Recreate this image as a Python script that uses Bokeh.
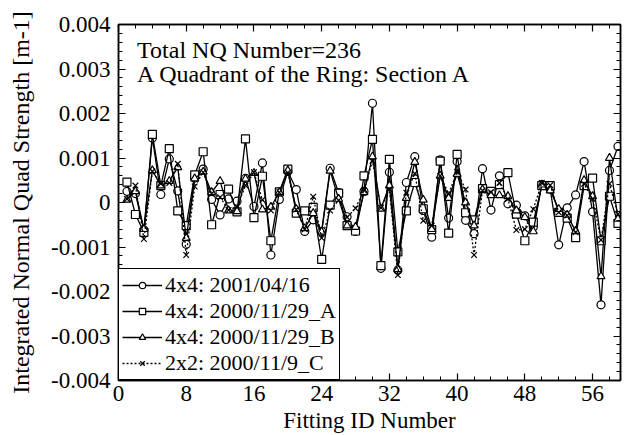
from bokeh.plotting import figure
from bokeh.models import (LinearAxis, FixedTicker, CustomJSTickFormatter, Legend,
                          LegendItem, Label, Range1d)
from bokeh.embed import file_html
from bokeh.resources import INLINE

# ---------------- data ----------------
fit_id = list(range(1, 60))

s_20010416 = [0.00025, 0.00020, -0.00062, 0.00145, 0.00018, 0.00098, 0.00026, -0.00094, 0.00055, 0.00075,
              0.00007, -0.00028, 0.00008, 0.00003, 0.00054, -0.00009, 0.00089, -0.00118, 0.00007, 0.00070,
              0.00029, -0.00065, -0.00039, -0.00065, 0.00077, 0.00022, -0.00032, -0.00065, 0.00025, 0.00223,
              -0.00148, 0.00068, -0.00152, 0.00045, 0.00103, -0.00018, -0.00078, 0.00096, -0.00035, 0.00092,
              -0.00040, -0.00070, 0.00076, -0.00017, 0.00060, -0.00003, -0.00006, -0.00030, -0.00055, 0.00040,
              0.00030, -0.00095, -0.00012, 0.00017, 0.00092, -0.00021, -0.00230, 0.00072, 0.00126]

s_20001129A = [0.00046, -0.00027, -0.00067, 0.00153, 0.00038, 0.00121, -0.00019, -0.00052, 0.00062, 0.00114,
               -0.00050, 0.00018, 0.00030, -0.00021, 0.00143, -0.00034, 0.00059, -0.00086, 0.00024, 0.00075,
               -0.00024, -0.00019, -0.00011, -0.00128, -0.00006, 0.00021, -0.00052, -0.00064, 0.00060, 0.00142,
               -0.00142, 0.00097, -0.00111, -0.00019, 0.00045, -0.00014, -0.00061, 0.00093, -0.00069, 0.00108,
               -0.00023, -0.00039, 0.00031, 0.00025, 0.00040, 0.00067, -0.00026, -0.00086, -0.00044, 0.00038,
               0.00038, -0.00022, -0.00035, -0.00079, 0.00038, 0.00055, -0.00086, 0.00014, -0.00047]

s_20001129B = [0.00006, 0.00025, -0.00060, 0.00072, 0.00038, 0.00048, 0.00079, -0.00080, 0.00054, 0.00069,
               0.00023, 0.00048, -0.00018, -0.00020, 0.00053, 0.00066, -0.00016, -0.00010, 0.00023, 0.00072,
               -0.00015, -0.00058, -0.00024, -0.00066, 0.00071, 0.00008, -0.00052, -0.00055, 0.00023, 0.00103,
               -0.00014, 0.00038, -0.00150, 0.00010, 0.00091, 0.00006, -0.00060, 0.00060, 0.00010, 0.00064,
               0.00000, -0.00052, 0.00029, 0.00016, 0.00016, 0.00014, -0.00018, -0.00033, -0.00065, 0.00040,
               0.00027, -0.00015, -0.00028, -0.00064, 0.00050, 0.00014, -0.00166, 0.00100, -0.00037]

s_20001109C = [0.00008, 0.00038, -0.00082, 0.00070, 0.00042, 0.00044, 0.00087, -0.00118, 0.00036, 0.00068,
               0.00020, 0.00012, -0.00017, -0.00010, 0.00038, 0.00068, 0.00006, -0.00018, 0.00023, 0.00067,
               -0.00016, -0.00060, 0.00013, -0.00080, -0.00018, 0.00005, -0.00033, -0.00013, 0.00027, 0.00093,
               -0.00012, 0.00030, -0.00163, 0.00022, 0.00065, -0.00041, -0.00052, 0.00060, 0.00020, 0.00069,
               0.00029, -0.00118, 0.00027, 0.00023, 0.00044, 0.00008, -0.00062, -0.00060, -0.00015, 0.00044,
               0.00039, -0.00022, -0.00029, -0.00067, 0.00042, 0.00008, -0.00084, 0.00042, -0.00026]

series_labels = ["4x4: 2001/04/16", "4x4: 2000/11/29_A", "4x4: 2000/11/29_B", "2x2: 2000/11/9_C"]
x_major = [0, 8, 16, 24, 32, 40, 48, 56]
y_major = [-0.004, -0.003, -0.002, -0.001, 0.0, 0.001, 0.002, 0.003, 0.004]
annot_lines = ["Total NQ Number=236", "A Quadrant of the Ring: Section A"]

# ---------------- figure ----------------
FONT = "Liberation Serif"
FS = "23px"

p = figure(width=633, height=435, output_backend="svg", toolbar_location=None,
           x_range=Range1d(0, 59.3), y_range=Range1d(-0.004, 0.004),
           min_border_left=118, min_border_right=13, min_border_top=24, min_border_bottom=55,
           x_axis_label="Fitting ID Number",
           y_axis_label="Integrated Normal Quad Strength [m-1]")
p.grid.visible = False
p.outline_line_color = "black"
p.outline_line_width = 1.5
p.background_fill_color = "white"
p.border_fill_color = "white"

x_minor = list(range(0, 60, 2))
y_minor = [round(i * 0.0002, 4) for i in range(-20, 21)]

xt = FixedTicker(ticks=x_major, minor_ticks=x_minor)
yt = FixedTicker(ticks=y_major, minor_ticks=y_minor)
yfmt = CustomJSTickFormatter(code="if (Math.abs(tick) < 1e-12) { return '0'; } return tick.toFixed(3);")


def style_axis(ax):
    ax.major_tick_in = 7
    ax.major_tick_out = 0
    ax.minor_tick_in = 4
    ax.minor_tick_out = 0
    ax.axis_line_color = "black"
    ax.axis_line_width = 1.5
    ax.major_tick_line_color = "black"
    ax.major_tick_line_width = 1.2
    ax.minor_tick_line_color = "black"
    ax.minor_tick_line_width = 1
    ax.major_label_text_font = FONT
    ax.major_label_text_font_size = FS
    ax.major_label_text_color = "black"
    ax.axis_label_text_font = FONT
    ax.axis_label_text_font_size = FS
    ax.axis_label_text_font_style = "normal"
    ax.axis_label_text_color = "black"


xa = p.xaxis[0]
ya = p.yaxis[0]
xa.ticker = xt
ya.ticker = yt
ya.formatter = yfmt
style_axis(xa)
style_axis(ya)
ya.axis_label_text_font_size = "24px"
xa.major_label_standoff = 5
xa.axis_label_standoff = 4
ya.major_label_standoff = 8
ya.axis_label_standoff = 14

# mirrored tick marks on the right and top sides (labels hidden)
ra = LinearAxis(ticker=FixedTicker(ticks=y_major, minor_ticks=y_minor))
ta = LinearAxis(ticker=FixedTicker(ticks=x_major, minor_ticks=x_minor))
for ax in (ra, ta):
    style_axis(ax)
    ax.major_label_text_font_size = "0px"
    ax.major_label_standoff = 0
p.add_layout(ra, "right")
p.add_layout(ta, "above")

# ---------------- series ----------------
data = [s_20010416, s_20001129A, s_20001129B, s_20001109C]
markers = ["circle", "square", "triangle", "x"]
dashes = ["solid", "solid", "solid", "2 2"]
items = []
for vals, mk, dash, lab in zip(data, markers, dashes, series_labels):
    ln = p.line(fit_id, vals, line_color="black", line_width=1.3, line_dash=dash)
    sc = p.scatter(fit_id, vals, marker=mk, size=8, fill_color="white",
                   line_color="black", line_width=1.2)
    items.append(LegendItem(label=lab, renderers=[ln, sc]))

legend = Legend(items=items, location="bottom_left", margin=0, padding=3, spacing=0,
                label_text_font=FONT, label_text_font_size="22px", label_height=16,
                label_text_color="black",
                glyph_width=40, glyph_height=16, label_standoff=3,
                border_line_color="black", border_line_width=1.2, border_line_alpha=1,
                background_fill_color="white", background_fill_alpha=1)
p.add_layout(legend)

for txt, yv in zip(annot_lines, [0.00343, 0.00288]):
    p.add_layout(Label(x=2.2, y=yv, text=txt, text_font=FONT, text_font_size="24px",
                       text_baseline="middle", text_color="black"))

open("out.html", "w").write(file_html(p, INLINE))
